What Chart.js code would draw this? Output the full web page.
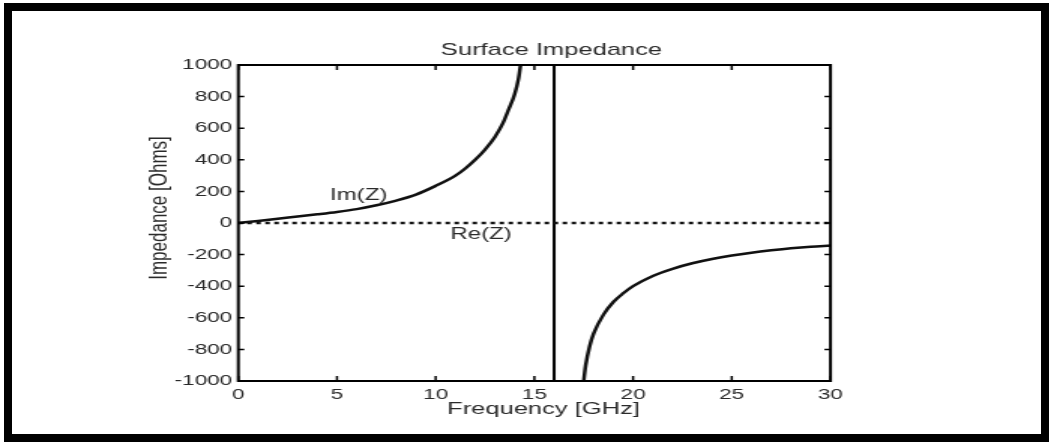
<!DOCTYPE html>
<html>
<head>
<meta charset="utf-8">
<script src="https://cdn.jsdelivr.net/npm/chart.js@4.4.0/dist/chart.umd.min.js"></script>
<style>
  html, body { margin: 0; padding: 0; background: #fff; }
  body { width: 1051px; height: 445px; position: relative; overflow: hidden; }
  /* the original figure is stretched sideways, so the canvas is too */
  #stretch { position: absolute; left: 0; top: 0; width: 700px; height: 445px; transform: scaleX(1.50143); transform-origin: 0 0; }
  #frame { position: absolute; left: 4px; top: 3px; width: 1045px; height: 439px; border: 8px solid #000; box-sizing: border-box; pointer-events: none; }
</style>
</head>
<body>
<div id="stretch"><canvas id="chart" width="700" height="445"></canvas></div>
<div id="frame"></div>
<script>
// Im(Z), null splits the two branches around the pole
const freq = [0, 1, 2, 3, 4, 5, 6, 7, 8, 9, 10, 11, 11.5, 12, 12.5, 13, 13.4, 13.7, 14, 14.2, 14.3, 14.4,
              null,
              17.4, 17.5, 17.6, 17.8, 18, 18.5, 19, 19.5, 20, 21, 22, 23, 24, 25, 26, 27, 28, 29, 30];
const imag = [0, 13, 27, 41, 55, 70, 88, 112, 142, 180, 235, 300, 345, 400, 465, 545, 630, 720, 815, 915, 1000, 1100,
              null,
              -1120, -1000, -900, -780, -700, -580, -500, -445, -400, -335, -290, -255, -228, -206, -188, -173, -160, -150, -143];
const reFreq = [0, 30];
const reVal = [0, 0];
const poleFreq = [16, 16];
const poleVal = [-1000, 1000];
const xTicks = [0, 5, 10, 15, 20, 25, 30];
const yTicks = [-1000, -800, -600, -400, -200, 0, 200, 400, 600, 800, 1000];

const textColor = '#2a2a2a';
const family = '"Liberation Sans", Arial, sans-serif';
const pts = (xs, ys) => xs.map((x, i) => (x === null ? { x: null, y: null } : { x: x, y: ys[i] }));

const decor = {
  id: 'decor',
  afterDraw(chart) {
    const { ctx, chartArea: a, scales: { x, y } } = chart;
    ctx.save();
    ctx.strokeStyle = '#000';
    // inward ticks on all four sides
    ctx.lineWidth = 1.5;
    ctx.beginPath();
    xTicks.forEach(v => {
      const px = x.getPixelForValue(v);
      ctx.moveTo(px, a.bottom); ctx.lineTo(px, a.bottom - 5);
      ctx.moveTo(px, a.top); ctx.lineTo(px, a.top + 5);
    });
    yTicks.forEach(v => {
      const py = y.getPixelForValue(v);
      ctx.moveTo(a.left, py); ctx.lineTo(a.left + 4, py);
      ctx.moveTo(a.right, py); ctx.lineTo(a.right - 4, py);
    });
    ctx.stroke();
    ctx.lineWidth = 2;
    ctx.strokeRect(a.left, a.top, a.right - a.left, a.bottom - a.top);

    ctx.fillStyle = textColor;
    ctx.textAlign = 'center';
    ctx.textBaseline = 'middle';
    ctx.font = '17px ' + family;
    ctx.fillText('Surface Impedance', 367.3, 50);
    ctx.fillText('Frequency [GHz]', 362, 409);
    ctx.save();
    ctx.translate(106.6, 208);
    ctx.rotate(-Math.PI / 2);
    ctx.fillText('Impedance [Ohms]', 0, 0);
    ctx.restore();
    ctx.font = '16px ' + family;
    ctx.fillText('Im(Z)', x.getPixelForValue(6.1), y.getPixelForValue(172));
    ctx.fillText('Re(Z)', x.getPixelForValue(12.3), y.getPixelForValue(-74));
    ctx.restore();
  }
};

new Chart(document.getElementById('chart'), {
  type: 'line',
  data: {
    datasets: [
      {
        label: 'Re(Z)',
        data: pts(reFreq, reVal),
        borderColor: '#111',
        borderWidth: 2.5,
        borderDash: [3, 3],
        pointRadius: 0
      },
      {
        label: 'Im(Z)',
        data: pts(freq, imag),
        borderColor: '#111',
        borderWidth: 2.5,
        pointRadius: 0,
        cubicInterpolationMode: 'monotone',
        spanGaps: false
      },
      {
        label: 'pole',
        data: pts(poleFreq, poleVal),
        borderColor: '#000',
        borderWidth: 2,
        pointRadius: 0
      }
    ]
  },
  options: {
    responsive: false,
    animation: false,
    events: [],
    layout: { padding: { left: 0, top: 65, right: 146.9, bottom: 0 } },
    plugins: { legend: { display: false }, tooltip: { enabled: false } },
    scales: {
      x: {
        type: 'linear',
        min: 0,
        max: 30,
        afterBuildTicks: s => { s.ticks = xTicks.map(v => ({ value: v })); },
        afterFit: s => { s.height = 64; },
        grid: { display: false, drawTicks: false },
        border: { display: false },
        ticks: { padding: 5, color: textColor, font: { family: family, size: 15 }, maxRotation: 0, autoSkip: false, callback: v => String(v) }
      },
      y: {
        type: 'linear',
        min: -1000,
        max: 1000,
        afterBuildTicks: s => { s.ticks = yTicks.map(v => ({ value: v })); },
        afterFit: s => { s.width = 158.7; },
        grid: { display: false, drawTicks: false },
        border: { display: false },
        ticks: { padding: 4, color: textColor, font: { family: family, size: 15 }, autoSkip: false, callback: v => String(v) }
      }
    }
  },
  plugins: [decor]
});
</script>
</body>
</html>
